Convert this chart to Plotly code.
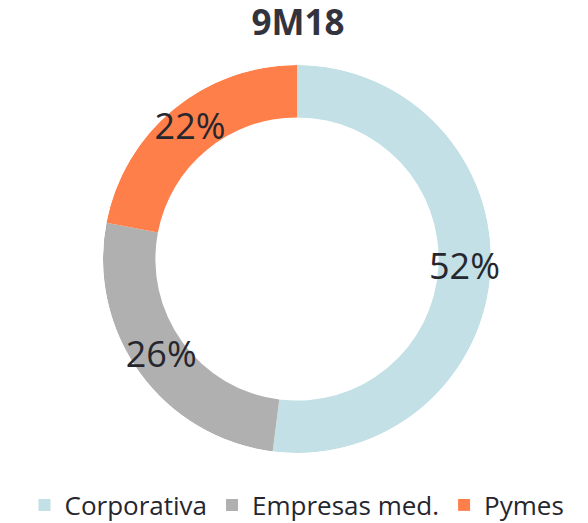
import plotly.graph_objects as go

categories = ["Corporativa", "Empresas med.", "Pymes"]
values = [52, 26, 22]
colors = ["#C2E0E5", "#B0B0B0", "#FF7F4A"]
title_text = "9M18"

hole = 0.73
total = sum(values)
# slice spans and middle angles (degrees, clockwise from 12 o'clock)
spans = [v / total * 360 for v in values]
mid_angles = []
acc = 0
for s in spans:
    mid_angles.append(acc + s / 2)
    acc += s
label_texts = ["{}%".format(round(v / total * 100)) for v in values]

fig = go.Figure()
for cat, col, th, w in zip(categories, colors, mid_angles, spans):
    fig.add_trace(go.Barpolar(
        name=cat,
        r=[1 - hole],
        base=[hole],
        theta=[th],
        width=[w],
        marker=dict(color=col, line=dict(width=0)),
        hoverinfo="name",
    ))
fig.add_trace(go.Scatterpolar(
    r=[(1 + hole) / 2] * len(values),
    theta=mid_angles,
    mode="text",
    text=label_texts,
    textposition="middle center",
    textfont=dict(size=36, color="#26262E", family="Open Sans"),
    hoverinfo="skip",
    showlegend=False,
))

# page body has an 8px default margin, so the figure is 580x515
fig.update_layout(
    width=580, height=515,
    margin=dict(l=0, r=2, t=57, b=70, autoexpand=False),
    paper_bgcolor="white",
    plot_bgcolor="white",
    font=dict(family="Open Sans", color="#26262E"),
    title=dict(text="<b>" + title_text + "</b>", x=0.5, xanchor="center",
               y=0.971, yanchor="middle",
               font=dict(size=35, color="#33333D", family="Open Sans")),
    polar=dict(
        domain=dict(x=[0, 1], y=[0, 1]),
        bgcolor="rgba(0,0,0,0)",
        bargap=0,
        radialaxis=dict(range=[0, 1], visible=False),
        angularaxis=dict(rotation=90, direction="clockwise", visible=False),
    ),
    legend=dict(orientation="h", x=0.5, xanchor="center", y=-0.134,
                yanchor="middle", font=dict(size=26, color="#26262E"),
                itemwidth=30, traceorder="normal"),
    showlegend=True,
)

fig.write_html("out.html")
